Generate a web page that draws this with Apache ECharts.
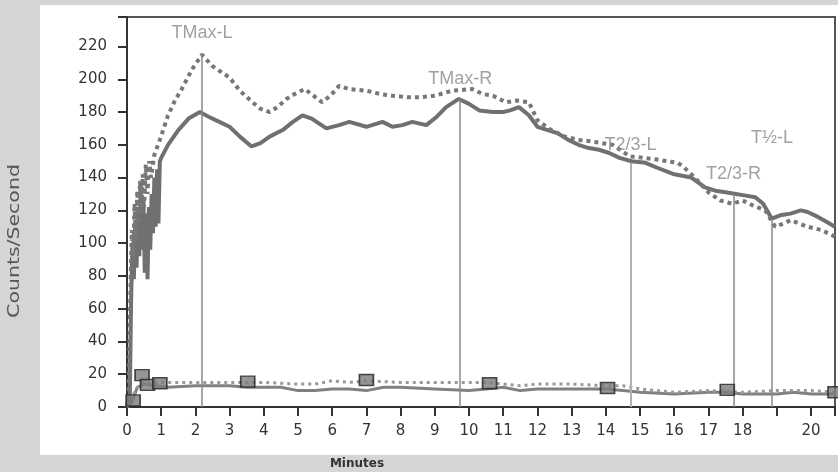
<!DOCTYPE html>
<html>
<head>
<meta charset="utf-8">
<script src="https://cdn.jsdelivr.net/npm/echarts@6/dist/echarts.min.js"></script>
<style>
  html, body { margin: 0; padding: 0; background: #d5d5d5; }
  #chart { width: 838px; height: 472px; }
</style>
</head>
<body>
<div id="chart"></div>
<script>
// right curve (solid), [minutes, counts/s]
const rightCurve = [
  [0, 0], [0.08, 3], [0.12, 65], [0.16, 100], [0.2, 78], [0.24, 112], [0.28, 85],
  [0.32, 122], [0.36, 92], [0.4, 136], [0.44, 96], [0.48, 126], [0.52, 82], [0.56, 118],
  [0.6, 78], [0.64, 122], [0.68, 96], [0.72, 130], [0.76, 106], [0.8, 140], [0.84, 110],
  [0.88, 145], [0.92, 112], [0.96, 150], [1.0, 152], [1.2, 160], [1.5, 169], [1.8, 176],
  [2.13, 180], [2.4, 177], [2.7, 174], [3.0, 171], [3.3, 165], [3.64, 159], [3.9, 161],
  [4.17, 165], [4.55, 169], [4.85, 174], [5.13, 178], [5.4, 176], [5.83, 170], [6.2, 172],
  [6.5, 174], [7.0, 171], [7.47, 174], [7.76, 171], [8.05, 172], [8.34, 174], [8.75, 172],
  [9.05, 177], [9.33, 183], [9.7, 188], [10.0, 185], [10.3, 181], [10.7, 180], [11.0, 180],
  [11.2, 181], [11.46, 183], [11.75, 178], [12.0, 171], [12.3, 169], [12.6, 167], [12.9, 163],
  [13.2, 160], [13.5, 158], [13.8, 157], [14.1, 155], [14.4, 152], [14.75, 150], [15.16, 149],
  [15.5, 146], [16.0, 142], [16.5, 140], [16.9, 134], [17.2, 132], [17.5, 131], [17.8, 130],
  [18.1, 129], [18.37, 128], [18.6, 124], [18.85, 115], [19.1, 117], [19.4, 118], [19.7, 120],
  [19.9, 119], [20.2, 116], [20.45, 113], [20.7, 110]
]

// left curve (dotted)
const leftCurve = [
  [0, 0], [0.05, 8], [0.1, 70], [0.14, 108], [0.18, 92], [0.22, 124], [0.26, 102], [0.3, 132],
  [0.34, 112], [0.38, 138], [0.42, 118], [0.46, 142], [0.5, 122], [0.55, 148], [0.6, 130],
  [0.65, 150], [0.7, 140], [0.8, 154], [0.96, 163], [1.2, 178], [1.4, 187], [1.6, 194],
  [1.9, 206], [2.19, 215], [2.5, 208], [3.0, 201], [3.3, 193], [3.67, 186], [3.9, 182],
  [4.17, 180], [4.4, 183], [4.66, 188], [4.9, 191], [5.2, 194], [5.45, 190], [5.7, 186],
  [5.95, 190], [6.2, 196], [6.5, 194], [7.0, 193], [7.4, 191], [7.76, 190], [8.2, 189],
  [8.6, 189], [9.0, 190], [9.5, 193], [10.1, 194], [10.4, 191], [10.7, 190], [11.07, 186],
  [11.4, 187], [11.75, 186], [12.0, 175], [12.4, 169], [12.8, 165], [13.2, 163], [13.6, 162],
  [14.2, 160], [14.7, 153], [15.1, 152], [15.5, 151], [16.1, 149], [16.3, 146], [16.6, 140],
  [17.0, 131], [17.35, 126], [17.7, 124], [18.0, 126], [18.3, 123], [18.66, 120], [18.95, 110],
  [19.2, 112], [19.4, 114], [19.65, 112], [19.9, 110], [20.3, 108], [20.6, 105], [20.7, 104]
]

// background curves near the bottom
const rightBackground = [
  [0, 0], [0.15, 3], [0.3, 12], [0.5, 14], [0.8, 13], [1.2, 12], [2, 13], [3, 13], [3.5, 12],
  [4.5, 12], [5, 10], [5.5, 10], [6, 11], [6.5, 11], [7, 10], [7.5, 12], [8, 12], [9, 11],
  [10, 10], [10.5, 11], [11, 12], [11.5, 10], [12, 11], [13, 11], [14, 11], [14.5, 10],
  [15, 9], [16, 8], [17, 9], [17.5, 9], [18, 8], [19, 8], [19.5, 9], [20, 8], [20.7, 8]
]
const leftBackground = [
  [0, 0], [0.2, 8], [0.4, 15], [0.7, 14], [1, 15], [2, 15], [3, 15], [4, 15], [5, 14],
  [5.5, 14], [6, 16], [6.5, 15], [7, 16], [8, 15], [9, 15], [10, 15], [10.5, 15], [11, 14],
  [11.5, 13], [12, 14], [13, 14], [14, 13], [14.5, 13], [15, 11], [16, 9], [17, 10], [18, 9],
  [19, 10], [20, 10], [20.7, 9]
]

// square markers
const squareMarks = [
  [0.18, 4], [0.44, 19.5], [0.6, 13.5], [0.96, 14.5], [3.53, 15.5], [7.0, 16.5],
  [10.6, 14.5], [14.05, 11.6], [17.55, 10.4], [20.7, 9]
]

// time markers
const markerNames = ['TMax-L', 'TMax-R', 'T2/3-L', 'T2/3-R', 'T½-L']
const markerTimes = [2.19, 9.74, 14.72, 17.73, 18.86]
const markerTops = [216, 188, 149, 130, 114]
const markerLabelValues = [228, 200, 160, 142, 164]

const chart = echarts.init(document.getElementById('chart'))

const markerLines = markerTimes.map((t, i) => [
  { coord: [t, 0] },
  { coord: [t, markerTops[i]], lineStyle: i === 2 ? { color: '#b0b0b0', width: 2 } : undefined }
])

const option = {
  animation: false,
  backgroundColor: '#d5d5d5',
  textStyle: { fontFamily: 'DejaVu Sans' },
  graphic: [
    { type: 'rect', z: -10, shape: { x: 40, y: 5, width: 798, height: 450 }, style: { fill: '#ffffff' } },
    {
      type: 'text', x: 15, y: 241, rotation: Math.PI / 2, scaleX: 1.28,
      style: { text: 'Counts/Second', fill: '#555', font: '16px "DejaVu Sans"', align: 'center', verticalAlign: 'middle' }
    },
    {
      type: 'text', x: 357, y: 458,
      style: { text: 'Minutes', fill: '#333', font: 'bold 12px "DejaVu Sans"', align: 'center', verticalAlign: 'top' }
    }
  ],
  grid: {
    left: 127, right: 1, top: 17, bottom: 65,
    show: true, borderColor: '#555', borderWidth: 2
  },
  xAxis: {
    type: 'value',
    min: 0, max: 20.7, interval: 1,
    splitLine: { show: false },
    axisLine: { lineStyle: { color: '#333', width: 2 } },
    axisTick: { length: 9, lineStyle: { color: '#333', width: 2 } },
    axisLabel: {
      margin: 17, fontSize: 15, color: '#333',
      formatter: v => (Number.isInteger(v) && v !== 19 ? String(v) : '')
    }
  },
  yAxis: {
    type: 'value',
    min: 0, max: 238, interval: 20,
    splitLine: { show: false },
    axisLine: { show: true, lineStyle: { color: '#333', width: 2 } },
    axisTick: { show: true, length: 9, lineStyle: { color: '#333', width: 2 } },
    axisLabel: {
      margin: 20, fontSize: 15, color: '#333',
      formatter: v => (v % 20 === 0 ? String(v) : '')
    }
  },
  series: [
    {
      name: 'Right background', type: 'line', data: rightBackground,
      showSymbol: false, lineStyle: { color: '#808080', width: 3 }
    },
    {
      name: 'Left background', type: 'line', data: leftBackground,
      showSymbol: false, lineStyle: { color: '#999', width: 3, type: [3, 4] }
    },
    {
      name: 'Right', type: 'line', data: rightCurve,
      showSymbol: false, lineStyle: { color: '#707070', width: 4 },
      markLine: {
        silent: true, symbol: 'none', label: { show: false },
        lineStyle: { color: '#888', width: 1.5, type: 'solid' },
        data: markerLines
      }
    },
    {
      name: 'Left', type: 'line', data: leftCurve,
      showSymbol: false, lineStyle: { color: '#777', width: 4, type: [4, 4] }
    },
    {
      name: 'Squares', type: 'scatter', data: squareMarks, z: 5,
      symbol: 'rect', symbolSize: [14, 11],
      itemStyle: { color: '#7c7c7c', borderColor: '#222', borderWidth: 1.5 }
    },
    {
      name: 'Marker labels', type: 'scatter', symbolSize: 0, z: 6,
      data: markerNames.map((n, i) => ({ name: n, value: [markerTimes[i], markerLabelValues[i]] })),
      label: {
        show: true, position: 'inside', formatter: '{b}',
        color: '#8a8a8a', fontSize: 18, fontFamily: 'Liberation Sans'
      }
    }
  ]
}

chart.setOption(option)
</script>
</body>
</html>
